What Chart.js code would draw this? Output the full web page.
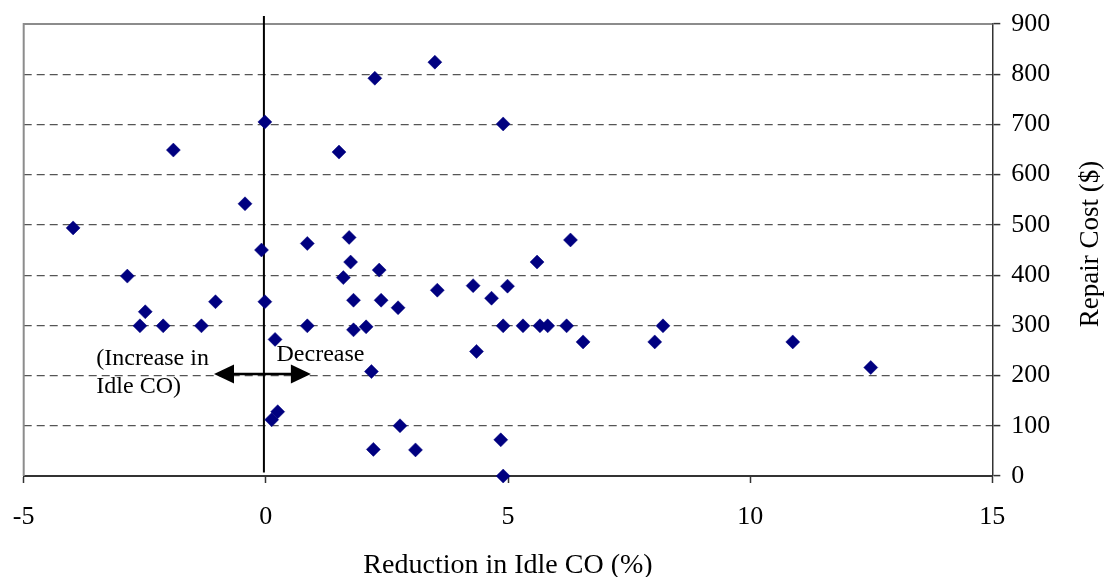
<!DOCTYPE html>
<html><head><meta charset="utf-8">
<script src="https://cdn.jsdelivr.net/npm/chart.js@4/dist/chart.umd.min.js"></script>
<style>html,body{margin:0;padding:0;background:#fff}#wrap{width:1106px;height:577px}</style>
</head><body><div id="wrap"><canvas id="c" width="1106" height="577"></canvas></div>
<script>
const idleCOReduction = [-3.98,-2.86,-1.91,-2.49,-2.60,-2.12,-1.33,-1.04,-0.43,-0.09,-0.02,-0.02,0.19,0.12,0.245,0.856,0.856,1.51,1.60,1.72,1.75,1.81,1.81,2.07,2.34,2.38,2.18,2.22,2.25,2.73,2.77,3.09,3.49,3.54,4.28,4.35,4.66,4.85,4.90,4.90,4.90,4.99,5.31,5.60,5.66,5.82,6.21,6.29,6.55,8.03,8.20,10.88,12.49];
const repairCost = [494,398,649,327,299,299,299,347,542,450,705,347,272,112,128,299,463,645,395,475,426,350,291,297,410,350,208,53,792,335,100,52,824,370,379,248,354,72,0,299,701,378,299,426,299,299,299,470,267,267,299,267,216];
const xTicks = [-5,0,5,10,15];
const yTicks = [0,100,200,300,400,500,600,700,800,900];
const xTitle = 'Reduction in Idle CO (%)';
const yTitle = 'Repair Cost ($)';
const increaseLines = ['(Increase in','Idle CO)'];
const decreaseText = 'Decrease';

const SERIF = '"Liberation Serif","Times New Roman",serif';

const decor = {
  id: 'decor',
  beforeDatasetsDraw(chart) {
    const {ctx, chartArea: a, scales: {x, y}} = chart;
    ctx.save();
    // top and left frame
    ctx.strokeStyle = '#8c8c8c';
    ctx.lineWidth = 2;
    ctx.beginPath();
    ctx.moveTo(a.left, a.bottom);
    ctx.lineTo(a.left, a.top);
    ctx.lineTo(a.right, a.top);
    ctx.stroke();
    // zero line
    const zx = x.getPixelForValue(-0.04);
    ctx.strokeStyle = '#000';
    ctx.lineWidth = 2;
    ctx.beginPath();
    ctx.moveTo(zx, y.getPixelForValue(916));
    ctx.lineTo(zx, y.getPixelForValue(7));
    ctx.stroke();
    // double arrow
    const ay = y.getPixelForValue(203);
    const ax1 = x.getPixelForValue(-1.07), ax2 = x.getPixelForValue(0.93);
    const hl = 20, hw = 9.5;
    ctx.lineWidth = 2.5;
    ctx.beginPath();
    ctx.moveTo(ax1 + hl - 2, ay); ctx.lineTo(ax2 - hl + 2, ay);
    ctx.stroke();
    ctx.fillStyle = '#000';
    ctx.beginPath();
    ctx.moveTo(ax1, ay); ctx.lineTo(ax1 + hl, ay - hw); ctx.lineTo(ax1 + hl, ay + hw); ctx.closePath();
    ctx.fill();
    ctx.beginPath();
    ctx.moveTo(ax2, ay); ctx.lineTo(ax2 - hl, ay - hw); ctx.lineTo(ax2 - hl, ay + hw); ctx.closePath();
    ctx.fill();
    // annotation text
    ctx.font = '24px ' + SERIF;
    ctx.textAlign = 'left';
    ctx.textBaseline = 'alphabetic';
    ctx.fillText(increaseLines[0], x.getPixelForValue(-3.50), y.getPixelForValue(222));
    ctx.fillText(increaseLines[1], x.getPixelForValue(-3.50), y.getPixelForValue(164.7));
    ctx.fillText(decreaseText, x.getPixelForValue(0.22), y.getPixelForValue(229));
    ctx.restore();
  },
  afterDraw(chart) {
    const {ctx, scales: {y}} = chart;
    ctx.save();
    ctx.font = '27px ' + SERIF;
    ctx.fillStyle = '#000';
    ctx.textAlign = 'center';
    ctx.textBaseline = 'middle';
    ctx.translate(y.right - 15, 244);
    ctx.rotate(-Math.PI / 2);
    ctx.fillText(yTitle, 0, 0);
    ctx.restore();
  }
};

new Chart(document.getElementById('c'), {
  type: 'scatter',
  data: {
    datasets: [{
      data: idleCOReduction.map((v, i) => ({x: v, y: repairCost[i]})),
      pointStyle: 'rectRot',
      pointRadius: 7,
      pointHoverRadius: 7,
      backgroundColor: '#000080',
      borderColor: '#000080',
      borderWidth: 0.5,
      clip: false
    }]
  },
  options: {
    responsive: false,
    animation: false,
    events: [],
    layout: {padding: {left: 23.7, top: 24, right: 0, bottom: 0}},
    plugins: {legend: {display: false}, tooltip: {enabled: false}},
    scales: {
      x: {
        type: 'linear', position: 'bottom', min: -5, max: 15,
        afterBuildTicks: s => { s.ticks = xTicks.map(v => ({value: v})); },
        afterFit: s => { s.height = 101; s.paddingLeft = 0; s.paddingRight = 0; },
        grid: {drawOnChartArea: false, drawTicks: true, tickLength: 7, tickColor: '#333', tickWidth: 1.5},
        border: {display: true, color: '#333', width: 2},
        ticks: {color: '#000', font: {family: SERIF, size: 26}, padding: 19, maxRotation: 0},
        title: {display: true, text: xTitle, color: '#000', font: {family: SERIF, size: 28, lineHeight: 1}, padding: {top: 0, bottom: -3}}
      },
      y: {
        type: 'linear', position: 'right', min: 0, max: 900,
        afterBuildTicks: s => { s.ticks = yTicks.map(v => ({value: v})); },
        afterFit: s => { s.width = 113.7; s.paddingTop = 0; s.paddingBottom = 0; },
        grid: {
          drawOnChartArea: true, drawTicks: true, tickLength: 8,
          color: c => (c.tick && (c.tick.value === 0 || c.tick.value === 900)) ? 'rgba(0,0,0,0)' : '#555',
          lineWidth: 1.2,
          tickBorderDash: [],
          tickColor: '#333', tickWidth: 1.5
        },
        border: {display: true, color: '#333', width: 1.5, dash: [8, 5]},
        ticks: {color: '#000', font: {family: SERIF, size: 26}, padding: 11}
      }
    }
  },
  plugins: [decor]
});
</script>
</body></html>
